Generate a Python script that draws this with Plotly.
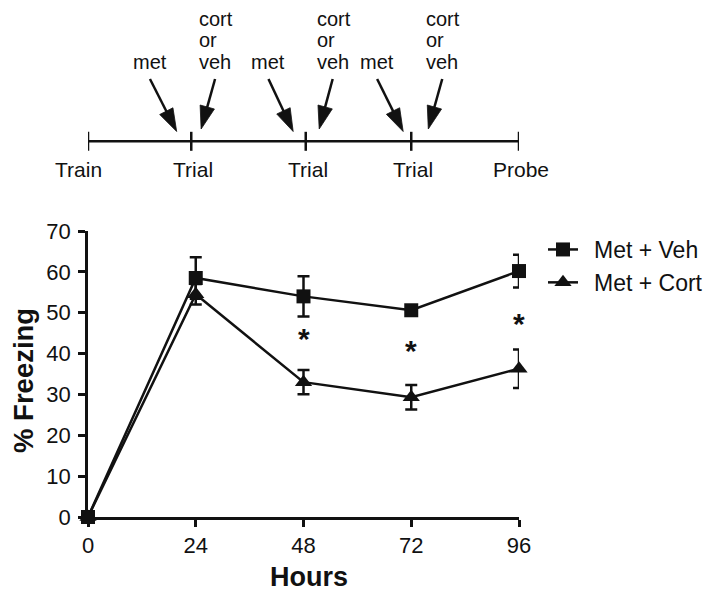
import plotly.graph_objects as go

# ---------------- data ----------------
hours = [0, 24, 48, 72, 96]
veh_name = "Met + Veh"
veh_mean = [0, 58.5, 54.0, 50.6, 60.2]
veh_sem = [0, 5.1, 4.9, 1.2, 4.0]
cort_name = "Met + Cort"
cort_mean = [0, 54.5, 33.0, 29.3, 36.3]
cort_sem = [0, 2.5, 2.95, 3.0, 4.7]

x_ticks = [0, 24, 48, 72, 96]
y_ticks = [0, 10, 20, 30, 40, 50, 60, 70]

sig_hours = [48, 72, 96]
sig_level = [44, 41, 47.5]

timeline_labels = ["Train", "Trial", "Trial", "Trial", "Probe"]
timeline_hours = [0, 23, 48.5, 72, 96]
met_tail_hours = [13.8, 40.2, 64.4]
met_tip_hours = [19.75, 45.7, 70.2]
cort_tail_hours = [28.3, 54.5, 78.9]
cort_tip_hours = [25.2, 51.5, 75.8]

FONT = "Liberation Sans, Arial, Helvetica, sans-serif"
INK = "#111111"

# page body adds an 8px offset; figure geometry compensates for it
OFF = 8
W, H = 714 - OFF, 595 - OFF
X0_S, X1_S = 88, 519          # screen x of hour 0 / hour 96
Y0_S, Y70_S = 517, 231        # screen y of 0% / 70%
L = X0_S - OFF
R = W - (X1_S - OFF)
B = H - (Y0_S - OFF)
T = 0
plot_h = H - B - T
pw = W - L - R
main_dom = (Y0_S - Y70_S) / plot_h


def px(sx):
    return (sx - X0_S) / pw


def py(sy):
    return (Y0_S - sy) / plot_h


fig = go.Figure()

fig.add_trace(go.Scatter(
    x=hours, y=veh_mean, name="\u00a0\u2009" + veh_name, mode="lines+markers",
    line=dict(color=INK, width=2.5),
    marker=dict(symbol="square", size=14, color=INK),
    error_y=dict(type="data", array=veh_sem, visible=True, color=INK, thickness=2.5, width=6),
    cliponaxis=False, legendgroup="a",
))
fig.add_trace(go.Scatter(
    x=hours, y=cort_mean, name="\u00a0\u2009" + cort_name, mode="lines+markers",
    line=dict(color=INK, width=2.5),
    marker=dict(symbol="triangle-up", size=15, color=INK),
    error_y=dict(type="data", array=cort_sem, visible=True, color=INK, thickness=2.5, width=6),
    cliponaxis=False, legendgroup="a",
))

# ---------------- timeline (upper panel; y2 expressed in screen pixels from top) ----------------
TL_Y = 141.3
TAIL_Y = 79
MET_TIP_Y = 131.5
CORT_TIP_Y = 129

ax_x, ax_y, sizes = [], [], []
for t0, t1 in zip(met_tail_hours, met_tip_hours):
    ax_x += [t0, t1, None]; ax_y += [TAIL_Y, MET_TIP_Y, None]; sizes += [0, 24, 0]
for t0, t1 in zip(cort_tail_hours, cort_tip_hours):
    ax_x += [t0, t1, None]; ax_y += [TAIL_Y, CORT_TIP_Y, None]; sizes += [0, 24, 0]

fig.add_trace(go.Scatter(
    x=ax_x, y=ax_y, xaxis="x", yaxis="y2", mode="lines+markers",
    line=dict(color=INK, width=2.5), connectgaps=False,
    marker=dict(symbol="arrow", size=sizes, color=INK, angleref="previous", opacity=1,
                line=dict(width=0.8, color=INK)),
    showlegend=False, hoverinfo="skip", cliponaxis=False,
))

shapes = [dict(type="line", xref="x", yref="y2", x0=timeline_hours[0], x1=timeline_hours[-1],
               y0=TL_Y, y1=TL_Y, line=dict(color=INK, width=2.5))]
for h in timeline_hours:
    shapes.append(dict(type="line", xref="x", yref="y2", x0=h, x1=h, y0=TL_Y - 9.5, y1=TL_Y + 9.5,
                       line=dict(color=INK, width=2.5)))

ann = []
for i, (lab, h) in enumerate(zip(timeline_labels, timeline_hours)):
    ann.append(dict(x=h, y=169, xref="x", yref="y2", text=lab, showarrow=False,
                    xanchor="center", yanchor="middle", xshift=(-10 if i == 0 else 2),
                    font=dict(family=FONT, size=21, color=INK)))
for t0 in met_tail_hours:
    ann.append(dict(x=t0, y=61.7, xref="x", yref="y2", text="met", showarrow=False,
                    xanchor="center", yanchor="middle", font=dict(family=FONT, size=20, color=INK)))
for t1 in cort_tip_hours:
    for word, yy in zip(["cort", "or", "veh"], [19, 40, 62]):
        ann.append(dict(x=t1, y=yy, xref="x", yref="y2", text=word, showarrow=False,
                        xanchor="left", yanchor="middle", xshift=-4,
                        font=dict(family=FONT, size=20, color=INK)))

for h, lv in zip(sig_hours, sig_level):
    ann.append(dict(x=h, y=lv, xref="x", yref="y", text="<b>*</b>", showarrow=False,
                    xanchor="center", yanchor="middle", yshift=-1,
                    font=dict(family=FONT, size=30, color=INK)))

# axis titles
ann.append(dict(x=px(24), y=py(381), xref="paper", yref="paper",
                text="<b>% Freezing</b>", textangle=-90, showarrow=False,
                xanchor="center", yanchor="middle", font=dict(family=FONT, size=27.5, color=INK)))
ann.append(dict(x=px(309), y=py(577), xref="paper", yref="paper",
                text="<b>Hours</b>", showarrow=False,
                xanchor="center", yanchor="middle", font=dict(family=FONT, size=27, color=INK)))

fig.update_layout(
    width=W, height=H,
    margin=dict(l=L, r=R, t=T, b=B, pad=0, autoexpand=False),
    paper_bgcolor="white", plot_bgcolor="white",
    font=dict(family=FONT, size=22, color=INK),
    showlegend=True,
    legend=dict(x=px(543), y=py(228), xanchor="left", yanchor="top",
                font=dict(family=FONT, size=23, color=INK), bgcolor="rgba(0,0,0,0)",
                tracegroupgap=0, itemwidth=30),
    xaxis=dict(range=[0, 96], tickvals=x_ticks, ticks="outside", ticklen=7, tickwidth=2.5,
               tickcolor=INK, showline=True, linecolor=INK, linewidth=2.5, showgrid=False,
               zeroline=False, anchor="y", layer="below traces", automargin=False,
               tickfont=dict(family=FONT, size=22, color=INK)),
    yaxis=dict(domain=[0, main_dom], range=[0, 70], tickvals=y_ticks, ticks="outside", ticklen=7,
               tickwidth=2.5, tickcolor=INK, showline=True, linecolor=INK, linewidth=2.5,
               showgrid=False, zeroline=False, layer="below traces", automargin=False,
               ticklabelstandoff=3,
               tickfont=dict(family=FONT, size=22, color=INK)),
    yaxis2=dict(domain=[main_dom, 1], range=[Y70_S, OFF], visible=False, anchor="x",
                showgrid=False, zeroline=False, automargin=False),
    shapes=shapes,
    annotations=ann,
)

fig.write_html("out.html")
